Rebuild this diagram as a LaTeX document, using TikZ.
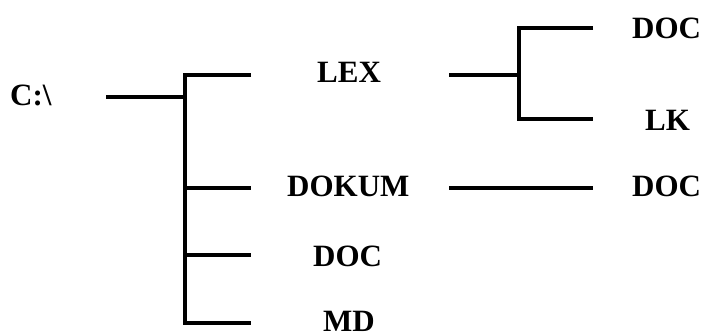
\documentclass[tikz,border=0pt]{standalone}
\usepackage{fontspec}
\setmainfont{Liberation Serif}
\begin{document}
\begin{tikzpicture}
[
x=1pt, y=-1pt,
dirname/.style={font=\fontsize{31}{36}\selectfont\bfseries, inner sep=0pt, anchor=base west},
branch/.style={line width=3.3pt}
]
\useasboundingbox (0,0) rectangle (705,334);
%Nodes
\node[dirname] (root) at(10,106)	{C:\textbackslash};
\node[dirname] (lex) at(317,83)		{LEX};
\node[dirname] (dokum) at(287,197)	{DOKUM};
\node[dirname] (doc) at(313,266)	{DOC};
\node[dirname] (md) at(323,331)		{MD};
\node[dirname] (lexdoc) at(632,39)	{DOC};
\node[dirname] (lexlk) at(645,131)	{LK};
\node[dirname] (dokumdoc) at(632,197)	{DOC};
%Coordinates
\coordinate (r0) at(106,97);
\coordinate (v0) at(185,97);
\coordinate (v1) at(185,75);
\coordinate (v2) at(185,188);
\coordinate (v3) at(185,255);
\coordinate (v4) at(185,323);
\coordinate (t1) at(251,75);
\coordinate (t2) at(251,188);
\coordinate (t3) at(251,255);
\coordinate (t4) at(251,323);
\coordinate (l0) at(449,75);
\coordinate (l1) at(519,75);
\coordinate (lv1) at(519,28);
\coordinate (lv2) at(519,119);
\coordinate (lt1) at(593,28);
\coordinate (lt2) at(593,119);
\coordinate (d0) at(449,188);
\coordinate (d1) at(593,188);
%Lines
\draw[branch] (r0) -- (v0);
\draw[branch] (t1) -- (v1) -- (v4) -- (t4);
\draw[branch] (v2) -- (t2);
\draw[branch] (v3) -- (t3);
\draw[branch] (l0) -- (l1);
\draw[branch] (lt1) -- (lv1) -- (lv2) -- (lt2);
\draw[branch] (d0) -- (d1);

\end{tikzpicture}
\end{document}
